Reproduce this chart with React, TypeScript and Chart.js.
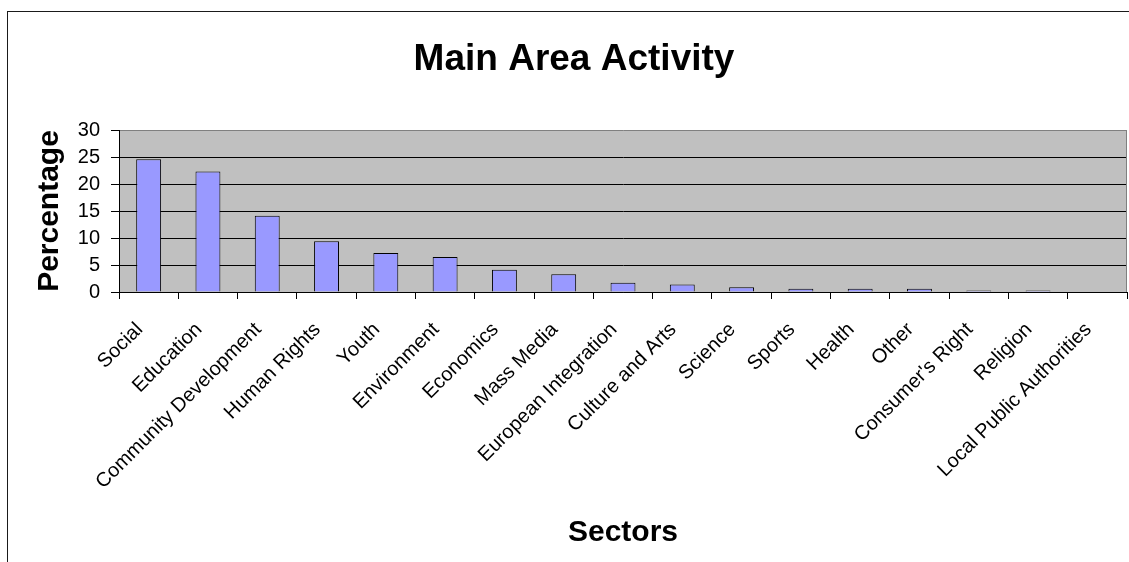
import React, { useEffect, useRef } from "react";
import { Chart, registerables } from "chart.js";

Chart.register(...registerables);

const categories = [
  "Social",
  "Education",
  "Community Development",
  "Human Rights",
  "Youth",
  "Environment",
  "Economics",
  "Mass Media",
  "European Integration",
  "Culture and Arts",
  "Science",
  "Sports",
  "Health",
  "Other",
  "Consumer's Right",
  "Religion",
  "Local Public Authorities",
];

const percentages = [24.6, 22.3, 14.1, 9.4, 7.2, 6.5, 4.1, 3.3, 1.7, 1.4, 0.9, 0.6, 0.6, 0.6, 0.3, 0.3, 0.1];

const yTicks = [0, 5, 10, 15, 20, 25, 30];

const chartTitle = "Main Area Activity";

const FONT = "'Liberation Sans', Arial, Helvetica, sans-serif";

const backgroundPlugin = {
  id: "excelBackground",
  beforeDraw(chart: any) {
    const { ctx, chartArea, width, height } = chart;
    ctx.save();
    ctx.fillStyle = "#ffffff";
    ctx.fillRect(0, 0, width, height);
    // outer chart frame (top and left edges visible)
    ctx.strokeStyle = "#1a1a1a";
    ctx.lineWidth = 1;
    ctx.strokeRect(7.5, 11.5, width + 20, height + 20);
    // plot area fill
    ctx.fillStyle = "#C0C0C0";
    ctx.fillRect(chartArea.left, chartArea.top, chartArea.right - chartArea.left, chartArea.bottom - chartArea.top);
    ctx.restore();
  },
  afterDraw(chart: any) {
    const { ctx, chartArea } = chart;
    ctx.save();
    ctx.strokeStyle = "#808080";
    ctx.lineWidth = 1;
    ctx.beginPath();
    ctx.moveTo(Math.round(chartArea.right) - 0.5, chartArea.top);
    ctx.lineTo(Math.round(chartArea.right) - 0.5, chartArea.bottom);
    ctx.stroke();
    // chart title, centred on the chart frame
    ctx.fillStyle = "#000";
    ctx.font = `bold 37px ${FONT}`;
    ctx.textAlign = "center";
    ctx.textBaseline = "alphabetic";
    ctx.fillText(chartTitle, 574, 70);
    ctx.restore();
  },
};

export default function App() {
  const canvasRef = useRef<HTMLCanvasElement | null>(null);

  useEffect(() => {
    document.body.style.margin = "0";
    const canvas = canvasRef.current;
    if (!canvas) return;
    const chart = new Chart(canvas, {
      type: "bar",
      data: {
        labels: categories,
        datasets: [
          {
            label: "Percentage",
            data: percentages,
            backgroundColor: "#9999FF",
            borderColor: "#000000",
            borderWidth: 1,
            barPercentage: 0.42,
            categoryPercentage: 1,
          },
        ],
      },
      options: {
        responsive: false,
        animation: false,
        layout: { padding: { left: 0, right: 2, top: 130, bottom: 0 } },
        plugins: {
          legend: { display: false },
          tooltip: { enabled: false },
          title: { display: false },
        },
        scales: {
          x: {
            offset: true,
            grid: {
              display: true,
              drawOnChartArea: false,
              drawTicks: true,
              tickLength: 7,
              color: "#000",
              offset: true,
            },
            border: { display: true, color: "#000", width: 1 },
            ticks: {
              autoSkip: false,
              minRotation: 45,
              maxRotation: 45,
              color: "#000",
              padding: 19,
              labelOffset: -9,
              font: { family: FONT, size: 20 },
            },
            title: {
              display: true,
              text: "Sectors",
              color: "#000",
              font: { family: FONT, size: 30, weight: "bold" },
              padding: { top: 0, bottom: 11 },
            },
            afterFit(scale: any) {
              scale.height = 270;
              scale.paddingLeft = 0;
              scale.paddingRight = 0;
            },
          },
          y: {
            min: 0,
            max: 30,
            afterBuildTicks(scale: any) {
              scale.ticks = yTicks.map((v) => ({ value: v }));
            },
            grid: {
              color: (c: any) => (c.tick && c.tick.value === 30 ? "#808080" : "#000000"),
              tickColor: "#000",
              tickLength: 8,
              lineWidth: 1,
            },
            border: { display: true, color: "#000", width: 1 },
            ticks: {
              color: "#000",
              padding: 11,
              font: { family: FONT, size: 20 },
            },
            title: {
              display: true,
              text: "Percentage",
              color: "#000",
              font: { family: FONT, size: 30, weight: "bold" },
              padding: { top: 32, bottom: 0 },
            },
            afterFit(scale: any) {
              scale.width = 119;
            },
          },
        },
      },
      plugins: [backgroundPlugin],
    });
    return () => chart.destroy();
  }, []);

  return (
    <div style={{ width: 1129, height: 562 }}>
      <canvas ref={canvasRef} width={1129} height={562} />
    </div>
  );
}
